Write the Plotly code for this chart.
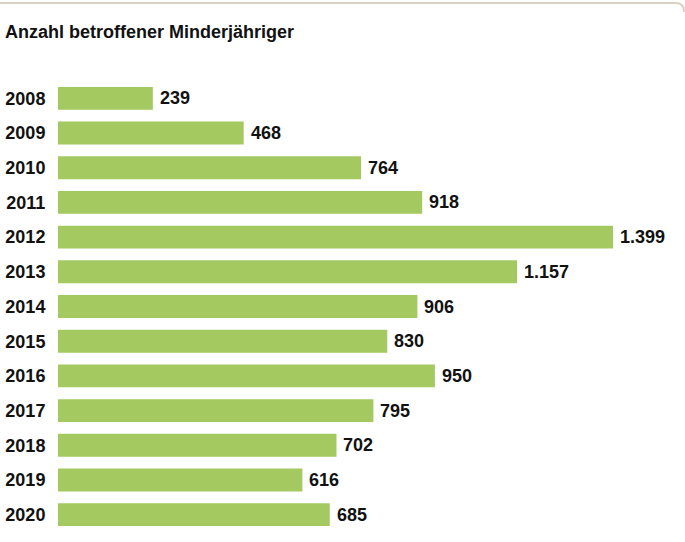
import plotly.graph_objects as go

years = ["2008", "2009", "2010", "2011", "2012", "2013", "2014", "2015", "2016", "2017", "2018", "2019", "2020"]
values = [239, 468, 764, 918, 1399, 1157, 906, 830, 950, 795, 702, 616, 685]
title_text = "Anzahl betroffener Minderjähriger"

W, H = 685, 542
ML, MR, MT, MB = 58, 72, 81, 10
PW = W - ML - MR
PH = H - MT - MB

def px_x(px):
    return (px - ML) / PW

def px_y(py):
    return (H - MB - py) / PH

labels = [f"{v:,}".replace(",", ".") for v in values]
FONT = "Liberation Sans, Arial, sans-serif"

fig = go.Figure(go.Bar(
    x=values, y=years, orientation="h",
    marker=dict(color="#a3c960", line=dict(width=0)),
    hoverinfo="skip",
))

# value labels: on a category axis the annotation y is the category's serial number
for i, (v, t) in enumerate(zip(values, labels)):
    fig.add_annotation(x=v, y=i, xref="x", yref="y", text=t,
                       showarrow=False, xanchor="left", yanchor="middle",
                       xshift=5, yshift=0,
                       font=dict(family=FONT, size=18, color="#111111", weight="bold"))

# top border with rounded right corner
x0, x1, xc = px_x(0), px_x(676), px_x(684)
y0, yc = px_y(3), px_y(12)
fig.add_shape(type="path", xref="paper", yref="paper",
              path=f"M {x0} {y0} L {x1} {y0} Q {xc} {y0} {xc} {yc}",
              line=dict(color="#d9d0c4", width=2))

fig.update_layout(
    width=W, height=H,
    margin=dict(l=ML, r=MR, t=MT, b=MB, pad=0, autoexpand=False),
    paper_bgcolor="white", plot_bgcolor="white",
    showlegend=False,
    title=dict(text=title_text, x=5 / W, xanchor="left",
               y=1 - 32 / H, yanchor="middle", yref="container",
               font=dict(family=FONT, size=18, color="#111111", weight="bold")),
    xaxis=dict(range=[0, 1399], visible=False, fixedrange=True),
    yaxis=dict(type="category", categoryorder="array", categoryarray=years,
               range=[len(years) - 0.5, -0.5],
               showgrid=False, zeroline=False, showline=False,
               automargin=False, fixedrange=True,
               ticks="outside", ticklen=8, tickcolor="rgba(0,0,0,0)",
               tickfont=dict(family=FONT, size=18, color="#111111", weight="bold")),
    bargap=0.34,
)

fig.write_html("out.html", config={"displayModeBar": False},
               post_script="document.body.style.margin='0';")
